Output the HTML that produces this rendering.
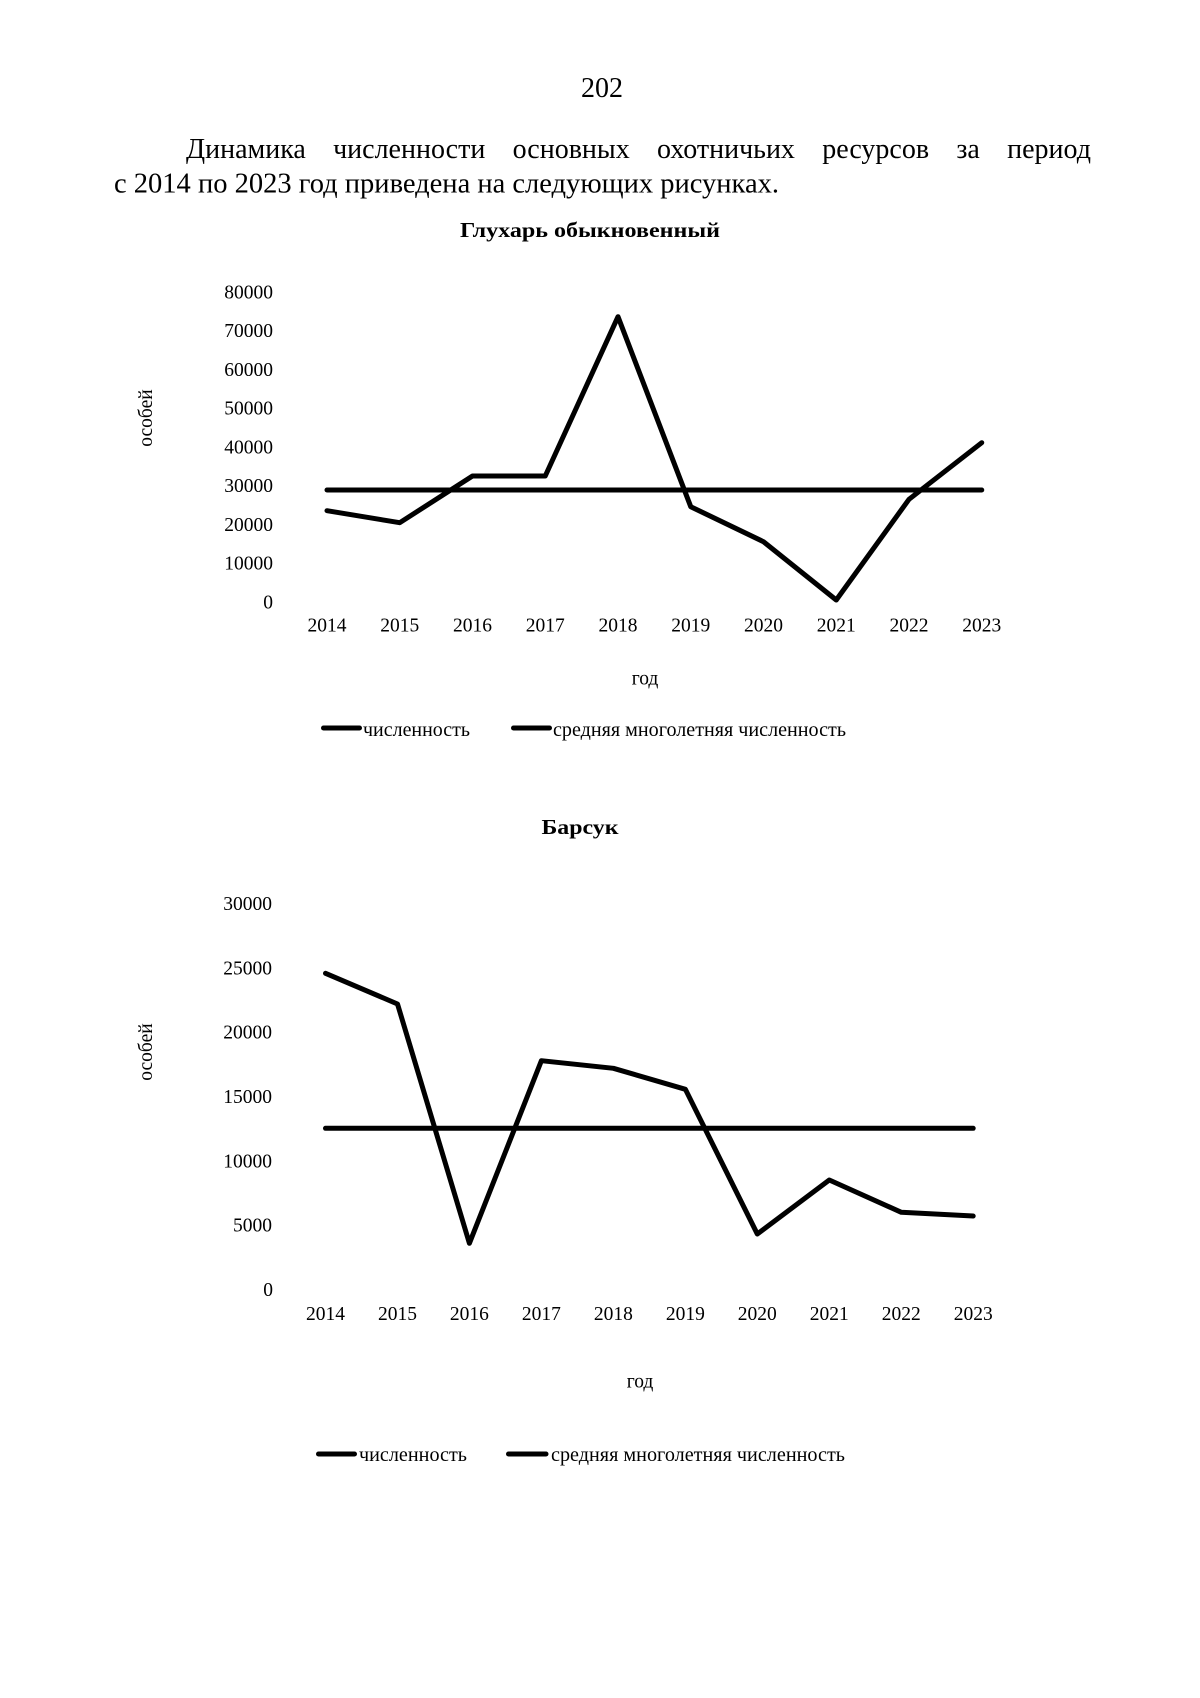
<!DOCTYPE html>
<html>
<head>
<meta charset="utf-8">
<style>
  html, body { margin:0; padding:0; background:#fff; }
  body { width:1200px; height:1698px; position:relative; overflow:hidden; }
  .line1 {
    position:absolute; left:186px; top:136px; width:905px; height:28px;
    display:flex; justify-content:space-between;
    font-family:"Liberation Serif", serif; font-size:28px; line-height:28px; color:#000;
    white-space:nowrap;
  }
  svg { position:absolute; left:0; top:0; }
  text { font-family:"Liberation Serif", serif; fill:#000; }
</style>
</head>
<body>
<div class="line1"><span>Динамика</span><span>численности</span><span>основных</span><span>охотничьих</span><span>ресурсов</span><span>за</span><span>период</span></div>
<svg width="1200" height="1698" viewBox="0 0 1200 1698" xmlns="http://www.w3.org/2000/svg">
  <!-- page number -->
  <text x="602" y="97" font-size="28" text-anchor="middle">202</text>
  <!-- paragraph line 2 -->
  <text x="114" y="192.5" font-size="28" textLength="665" lengthAdjust="spacingAndGlyphs">с 2014 по 2023 год приведена на следующих рисунках.</text>

  <!-- ===== Chart 1 ===== -->
  <text x="590" y="237" font-size="21" font-weight="bold" text-anchor="middle" textLength="260" lengthAdjust="spacingAndGlyphs">Глухарь обыкновенный</text>

  <g font-size="19.5" text-anchor="end">
    <text x="273" y="298.4">80000</text>
    <text x="273" y="337.2">70000</text>
    <text x="273" y="375.9">60000</text>
    <text x="273" y="414.7">50000</text>
    <text x="273" y="453.4">40000</text>
    <text x="273" y="492.2">30000</text>
    <text x="273" y="530.9">20000</text>
    <text x="273" y="569.7">10000</text>
    <text x="273" y="608.4">0</text>
  </g>
  <g font-size="19.5" text-anchor="middle">
    <text x="327" y="631.5">2014</text>
    <text x="399.75" y="631.5">2015</text>
    <text x="472.5" y="631.5">2016</text>
    <text x="545.25" y="631.5">2017</text>
    <text x="618" y="631.5">2018</text>
    <text x="690.75" y="631.5">2019</text>
    <text x="763.5" y="631.5">2020</text>
    <text x="836.25" y="631.5">2021</text>
    <text x="909" y="631.5">2022</text>
    <text x="981.75" y="631.5">2023</text>
  </g>
  <text x="0" y="0" font-size="19.5" text-anchor="middle" transform="translate(152,418) rotate(-90)">особей</text>
  <text x="645" y="684.5" font-size="19.5" text-anchor="middle">год</text>

  <polyline points="327,490 981.75,490" fill="none" stroke="#000" stroke-width="5" stroke-linecap="round"/>
  <polyline points="327,510.7 399.75,522.7 472.5,476 545.25,476 618,316.7 690.75,506.7 763.5,541.7 836.25,600 909,499.3 981.75,442.7" fill="none" stroke="#000" stroke-width="5" stroke-linecap="round" stroke-linejoin="round"/>

  <!-- legend 1 -->
  <line x1="323.5" y1="728" x2="359.5" y2="728" stroke="#000" stroke-width="5" stroke-linecap="round"/>
  <text x="363" y="736" font-size="19.5" textLength="107" lengthAdjust="spacingAndGlyphs">численность</text>
  <line x1="513.5" y1="728" x2="549.5" y2="728" stroke="#000" stroke-width="5" stroke-linecap="round"/>
  <text x="553" y="736" font-size="19.5" textLength="293" lengthAdjust="spacingAndGlyphs">средняя многолетняя численность</text>

  <!-- ===== Chart 2 ===== -->
  <text x="580" y="834" font-size="21" font-weight="bold" text-anchor="middle" textLength="77" lengthAdjust="spacingAndGlyphs">Барсук</text>

  <g font-size="19.5" text-anchor="end">
    <text x="272" y="910">30000</text>
    <text x="272" y="974.3">25000</text>
    <text x="272" y="1038.7">20000</text>
    <text x="272" y="1103">15000</text>
    <text x="272" y="1167.3">10000</text>
    <text x="272" y="1231.7">5000</text>
    <text x="273" y="1296">0</text>
  </g>
  <g font-size="19.5" text-anchor="middle">
    <text x="325.5" y="1320">2014</text>
    <text x="397.5" y="1320">2015</text>
    <text x="469.4" y="1320">2016</text>
    <text x="541.4" y="1320">2017</text>
    <text x="613.4" y="1320">2018</text>
    <text x="685.4" y="1320">2019</text>
    <text x="757.3" y="1320">2020</text>
    <text x="829.3" y="1320">2021</text>
    <text x="901.3" y="1320">2022</text>
    <text x="973.2" y="1320">2023</text>
  </g>
  <text x="0" y="0" font-size="19.5" text-anchor="middle" transform="translate(152,1052) rotate(-90)">особей</text>
  <text x="640" y="1387.5" font-size="19.5" text-anchor="middle">год</text>

  <polyline points="325.5,1128.3 973.2,1128.3" fill="none" stroke="#000" stroke-width="5" stroke-linecap="round"/>
  <polyline points="325.5,973.3 397.5,1004 469.4,1243.3 541.4,1060.7 613.4,1068.3 685.4,1089.3 757.3,1234 829.3,1180 901.3,1212.3 973.2,1216" fill="none" stroke="#000" stroke-width="5" stroke-linecap="round" stroke-linejoin="round"/>

  <!-- legend 2 -->
  <line x1="318.5" y1="1454" x2="354.5" y2="1454" stroke="#000" stroke-width="5" stroke-linecap="round"/>
  <text x="359" y="1461" font-size="19.5" textLength="108" lengthAdjust="spacingAndGlyphs">численность</text>
  <line x1="508.5" y1="1454" x2="546" y2="1454" stroke="#000" stroke-width="5" stroke-linecap="round"/>
  <text x="551" y="1461" font-size="19.5" textLength="294" lengthAdjust="spacingAndGlyphs">средняя многолетняя численность</text>
</svg>
</body>
</html>
